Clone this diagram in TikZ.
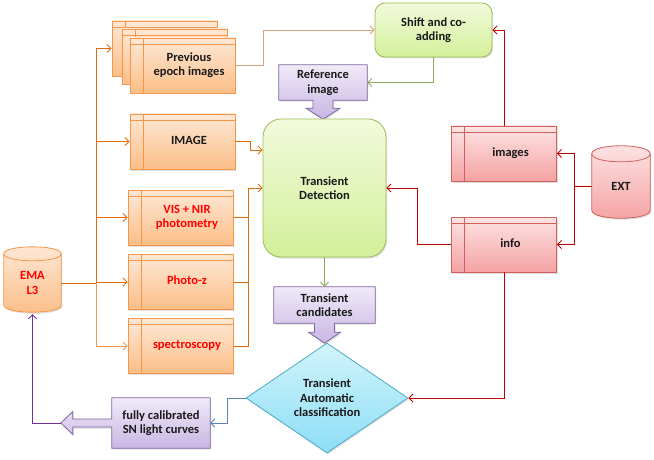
\documentclass[tikz,border=0pt]{standalone}
\usepackage{fontspec}
\setmainfont{Carlito}
\usetikzlibrary{positioning,calc,shapes.geometric,shadows,backgrounds,arrows.meta}

\definecolor{orangeedge}{HTML}{F79646}
\definecolor{orangetop}{HTML}{FEE8D6}
\definecolor{orangebot}{HTML}{FBBE88}
\definecolor{greenedge}{HTML}{9BBB59}
\definecolor{greentop}{HTML}{F2FADC}
\definecolor{greenbot}{HTML}{D3F09A}
\definecolor{purpleedge}{HTML}{8064A2}
\definecolor{purpletop}{HTML}{F0EAF8}
\definecolor{purplebot}{HTML}{C8B6E4}
\definecolor{rededge}{HTML}{D0605D}
\definecolor{redtop}{HTML}{FDE4E4}
\definecolor{redbot}{HTML}{F5A2A2}
\definecolor{cyanedge}{HTML}{4BACC6}
\definecolor{cyantop}{HTML}{D2F4FB}
\definecolor{cyanbot}{HTML}{8DDEF6}
\definecolor{lineorange}{HTML}{E46C0A}
\definecolor{linetan}{HTML}{D9A07A}
\definecolor{linegreen}{HTML}{8EAA5E}
\definecolor{linered}{HTML}{C00000}
\definecolor{lineblue}{HTML}{5B84B8}
\definecolor{linepurple}{HTML}{7030A0}
\definecolor{textred}{HTML}{FF0000}

\newcommand\diagfont{\fontsize{12.5}{14.5}\selectfont\bfseries}
% text of a box with a left strip, moved off the strip
\newcommand\striptext[1]{\hspace*{13pt}\begin{tabular}{@{}c@{}}#1\end{tabular}}

\begin{document}
\begin{tikzpicture}[
        x=1pt, y=-1pt,
        >={Straight Barb[length=4pt,width=8pt]},
        boxshadow/.style={drop shadow={shadow xshift=1pt, shadow yshift=-1.5pt, opacity=0.25}},
        subbox/.style={rectangle, draw=#1, line width=0.8pt, boxshadow, minimum width=105pt, minimum height=55pt,
            inner sep=1pt, font=\diagfont, text=black!90,
            path picture={
                \draw[#1, line width=0.8pt] ([yshift=-6pt]path picture bounding box.north west) -- ([yshift=-6pt]path picture bounding box.north east);
                \draw[#1, line width=0.8pt] ([xshift=13pt]path picture bounding box.north west) -- ([xshift=13pt]path picture bounding box.south west);}},
        orangebox/.style={subbox=orangeedge, top color=orangetop, bottom color=orangebot},
        redbox/.style={subbox=rededge, top color=redtop, bottom color=redbot},
        greenbox/.style={rectangle, rounded corners=10pt, draw=greenedge, line width=0.8pt, boxshadow,
            top color=greentop, bottom color=greenbot, font=\diagfont, text=black!90, align=center},
        calloutbox/.style={rectangle, inner sep=0pt, font=\diagfont, text=black!90, align=center},
        callout/.style={draw=purpleedge, line width=0.8pt, top color=purpletop, bottom color=purplebot, boxshadow},
        storebody/.style={rectangle, inner sep=0pt, font=\diagfont, align=center},
        conn/.style={->, line width=0.9pt}
    ]
    \useasboundingbox (0,0) rectangle (654,460);

    % previous epoch stack
    \node[orangebox] (prevc) at (164.5,48.5) {};
    \node[orangebox] (prevb) at (174.5,56.5) {};
    \node[orangebox] (prev) at (182.5,65.5) {\striptext{Previous\\epoch images}};

    % left column
    \node[orangebox] (image) at (182.5,141.5) {\striptext{IMAGE}};
    \node[orangebox, text=textred] (vis) at (180.5,217.5) {\striptext{VIS + NIR\\photometry}};
    \node[orangebox, text=textred] (photoz) at (180.5,282) {\striptext{Photo-z}};
    \node[orangebox, text=textred] (spec) at (180.5,346) {\striptext{spectroscopy}};
    \node[storebody, text=textred, minimum width=57pt, minimum height=58pt] (ema) at (32.5,283) {EMA\\L3};

    % centre
    \node[greenbox, minimum width=117pt, minimum height=54pt] (shift) at (433.5,30) {Shift and co-\\adding};
    \node[greenbox, rounded corners=18pt, minimum width=123pt, minimum height=138pt] (det) at (324.5,188) {Transient\\Detection};
    \node[calloutbox, minimum width=88pt, minimum height=35pt] (ref) at (323,82.5) {Reference\\image};
    \node[calloutbox, minimum width=101pt, minimum height=36pt] (cand) at (324.5,305) {Transient\\candidates};
    \node[diamond, draw=cyanedge, line width=0.8pt, top color=cyantop, bottom color=cyanbot, boxshadow,
        minimum width=162pt, minimum height=110pt, inner sep=0pt, font=\diagfont, text=black!90, align=center]
        (auto) at (327,398) {Transient\\Automatic\\classification};
    \node[calloutbox, minimum width=98pt, minimum height=50pt] (fully) at (161,423) {fully calibrated\\SN light curves};

    % right column
    \node[redbox] (images) at (504,153.5) {\striptext{images}};
    \node[redbox] (info) at (504,244.5) {\striptext{info}};
    \node[storebody, text=black!90, minimum width=58pt, minimum height=64pt] (ext) at (621,186) {EXT};

    % callout and cylinder outlines
    \begin{scope}[on background layer]
        \draw[callout] (ref.north west) -- (ref.north east) -- (ref.south east) -- ($(ref.south)+(10,0)$) -- ++(0,8)
            -- ++(7,0) -- ($(ref.south)+(0,19)$) -- ++(-17,-11) -- ++(7,0) -- ++(0,-8) -- (ref.south west) -- cycle;
        \draw[callout] (cand.north west) -- (cand.north east) -- (cand.south east) -- ($(cand.south)+(10,0)$) -- ++(0,9)
            -- ++(6,0) -- ($(cand.south)+(0,20)$) -- ++(-16,-11) -- ++(6,0) -- ++(0,-9) -- (cand.south west) -- cycle;
        \draw[callout] (fully.north west) -- (fully.north east) -- (fully.south east) -- (fully.south west)
            -- ($(fully.west)+(0,4)$) -- ++(-39,0) -- ++(0,7.5) -- ($(fully.west)+(-51,0)$) -- ++(12,-11.5)
            -- ++(0,7.5) -- ++(39,0) -- cycle;
        \draw[draw=orangeedge, line width=0.8pt, top color=orangetop, bottom color=orangebot, boxshadow]
            (ema.north west) -- ($(ema.south west)+(0,-7)$) .. controls ($(ema.south west)+(0,2.3)$) and ($(ema.south east)+(0,2.3)$) .. ($(ema.south east)+(0,-7)$)
            -- (ema.north east) .. controls ($(ema.north east)+(0,-9.3)$) and ($(ema.north west)+(0,-9.3)$) .. (ema.north west) -- cycle;
        \draw[orangeedge, line width=0.8pt] (ema.north west) .. controls ($(ema.north west)+(0,9.3)$) and ($(ema.north east)+(0,9.3)$) .. (ema.north east);
        \draw[draw=rededge, line width=0.8pt, top color=redtop, bottom color=redbot, boxshadow]
            (ext.north west) -- ($(ext.south west)+(0,-8)$) .. controls ($(ext.south west)+(0,2.7)$) and ($(ext.south east)+(0,2.7)$) .. ($(ext.south east)+(0,-8)$)
            -- (ext.north east) .. controls ($(ext.north east)+(0,-10.7)$) and ($(ext.north west)+(0,-10.7)$) .. (ext.north west) -- cycle;
        \draw[rededge, line width=0.8pt] (ext.north west) .. controls ($(ext.north west)+(0,10.7)$) and ($(ext.north east)+(0,10.7)$) .. (ext.north east);
    \end{scope}
    \coordinate (fullytip) at ($(fully.west)+(-51,0)$);

    % bus coordinates
    \coordinate (busl) at (96,283);
    \coordinate (busr) at (248,188);
    \coordinate (busx) at (574,186);

    % connectors
    \draw[line width=0.9pt, lineorange] (ema.east) -- (busl);
    \draw[conn, lineorange] (busl) |- (prevc.west);
    \draw[conn, lineorange] (busl) |- (image.west);
    \draw[conn, lineorange] (busl) |- (vis.west);
    \draw[conn, lineorange] (busl) |- (photoz.west);
    \draw[conn, lineorange!70] (busl) |- (spec.west);
    \draw[conn, lineorange] (image.east) -- ++(15,0) |- (det.west |- 0,150);
    \draw[line width=0.9pt, lineorange] (vis.east) -| (busr);
    \draw[line width=0.9pt, lineorange] (photoz.east) -| (busr);
    \draw[conn, lineorange] (spec.east) -| (busr) -- (det.west);
    \draw[conn, linetan] (prev.east) -- ++(28,0) |- (shift.west);
    \draw[conn, linegreen] (shift.south) |- (ref.east);
    \draw[conn, linegreen] (det.south) -- (cand.north);
    \draw[conn, linered] (images.north) |- (shift.east);
    \draw[conn, linered] (ext.west) -- (busx) |- (images.east);
    \draw[conn, linered] (busx) |- (info.east);
    \draw[conn, linered] (info.west) -- ++(-34,0) |- (det.east);
    \draw[conn, linered] (info.south) |- (auto.east);
    \draw[conn, lineblue] (auto.west) -- ++(-18,0) |- (fully.east);
    \draw[conn, linepurple] (fullytip) -| ($(ema.south)+(0,2)$);
\end{tikzpicture}
\end{document}
